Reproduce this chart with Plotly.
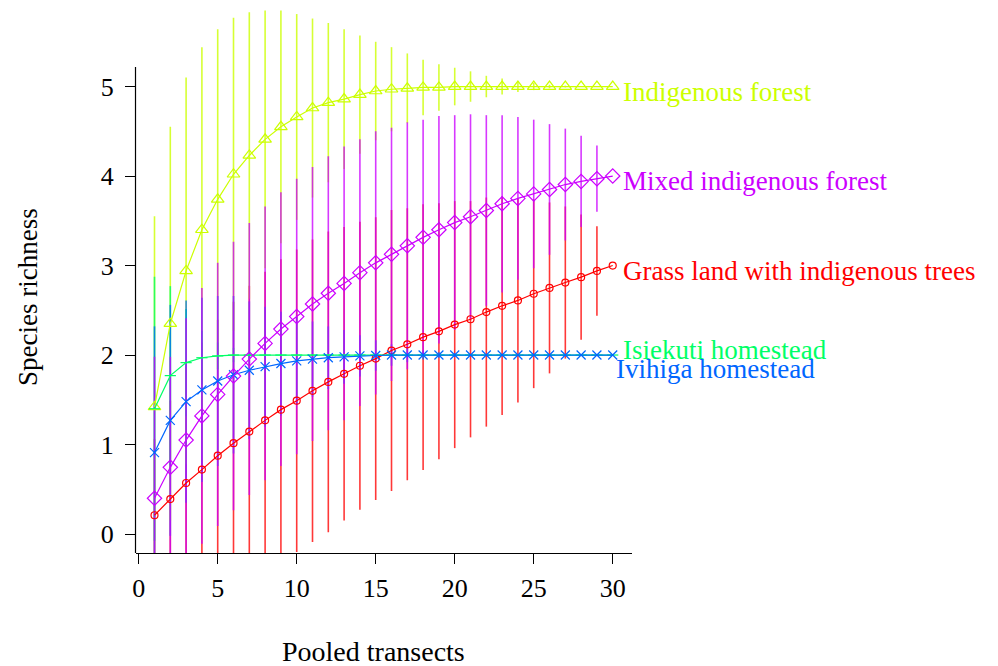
import plotly.graph_objects as go

# ---------------- data ----------------
transects = list(range(1, 31))

series_names = ["Grass land with indigenous trees", "Indigenous forest",
                "Isiekuti homestead", "Ivihiga homestead", "Mixed indigenous forest"]

grass = [0.21, 0.39, 0.57, 0.72, 0.875, 1.015, 1.145, 1.27, 1.39, 1.49,
         1.60, 1.70, 1.79, 1.88, 1.96, 2.05, 2.12, 2.20, 2.265, 2.34,
         2.40, 2.48, 2.55, 2.61, 2.685, 2.75, 2.81, 2.87, 2.94, 3.0]
grass_err = [0.85, 1.1, 1.3, 1.42, 1.52, 1.58, 1.63, 1.66, 1.68, 1.69,
             1.69, 1.68, 1.64, 1.61, 1.58, 1.57, 1.52, 1.485, 1.43, 1.38,
             1.32, 1.28, 1.22, 1.14, 1.055, 0.955, 0.85, 0.70, 0.50, 0.0]

indigenous = [1.42, 2.35, 2.94, 3.40, 3.74, 4.02, 4.23, 4.41, 4.55, 4.66,
              4.76, 4.82, 4.86, 4.91, 4.95, 4.97, 4.98, 4.99, 4.99, 5.0,
              5.0, 5.0, 5.0, 5.0, 5.0, 5.0, 5.0, 5.0, 5.0, 5.0]
indigenous_err = [2.13, 2.20, 2.16, 2.04, 1.90, 1.75, 1.60, 1.44, 1.30, 1.15,
                  1.00, 0.89, 0.78, 0.66, 0.55, 0.47, 0.39, 0.31, 0.26, 0.21,
                  0.17, 0.12, 0.09, 0.06, 0.04, 0.02, 0.01, 0.0, 0.0, 0.0]

isiekuti = [1.40, 1.77, 1.915, 1.97, 1.99, 2.0, 2.0, 2.0, 2.0, 2.0,
            2.0, 2.0, 2.0, 2.0, 2.0, 2.0, 2.0, 2.0, 2.0, 2.0,
            2.0, 2.0, 2.0, 2.0, 2.0, 2.0, 2.0, 2.0, 2.0, 2.0]
isiekuti_err = [1.475, 1.0, 0.6, 0.3, 0.15, 0.08, 0.04, 0.02, 0.0, 0.0,
                0.0, 0.0, 0.0, 0.0, 0.0, 0.0, 0.0, 0.0, 0.0, 0.0,
                0.0, 0.0, 0.0, 0.0, 0.0, 0.0, 0.0, 0.0, 0.0, 0.0]

ivihiga = [0.91, 1.27, 1.48, 1.61, 1.71, 1.78, 1.83, 1.87, 1.905, 1.935,
           1.955, 1.97, 1.98, 1.99, 1.995, 2.0, 2.0, 2.0, 2.0, 2.0,
           2.0, 2.0, 2.0, 2.0, 2.0, 2.0, 2.0, 2.0, 2.0, 2.0]
ivihiga_err = [1.41, 1.29, 1.13, 1.03, 0.95, 0.88, 0.77, 0.67, 0.58, 0.49,
               0.42, 0.35, 0.30, 0.23, 0.17, 0.12, 0.08, 0.05, 0.03, 0.02,
               0.01, 0.0, 0.0, 0.0, 0.0, 0.0, 0.0, 0.0, 0.0, 0.0]

mixed = [0.40, 0.745, 1.05, 1.32, 1.56, 1.765, 1.955, 2.13, 2.29, 2.43,
         2.57, 2.69, 2.80, 2.92, 3.03, 3.125, 3.22, 3.315, 3.40, 3.48,
         3.545, 3.615, 3.69, 3.75, 3.80, 3.85, 3.905, 3.94, 3.97, 4.0]
mixed_err = [1.58, 1.235, 1.36, 1.43, 1.47, 1.50, 1.52, 1.53, 1.53, 1.54,
             1.53, 1.53, 1.53, 1.49, 1.47, 1.415, 1.38, 1.315, 1.27, 1.20,
             1.145, 1.065, 0.99, 0.91, 0.83, 0.73, 0.625, 0.51, 0.37, 0.0]

x_ticks = [0, 5, 10, 15, 20, 25, 30]
y_ticks = [0, 1, 2, 3, 4, 5]

# ---------------- styling ----------------
colors = ["#FF0000", "#CCFF00", "#00FF66", "#0066FF", "#CC00FF"]
bar_colors = ["rgba(255,0,0,0.78)", "rgba(204,255,0,0.8)", "rgba(0,255,102,0.8)",
              "rgba(0,102,255,0.78)", "rgba(204,0,255,0.78)"]
symbols = ["circle-open", "triangle-up-open", "line-ew-open", "x-thin-open", "diamond-open"]
sizes = [7, 11, 8, 9, 11]
label_xshift = [8, 8, 8, 1, 8]
label_yshift = [-5, -5, 5, -14, -5]

means = [grass, indigenous, isiekuti, ivihiga, mixed]
errs = [grass_err, indigenous_err, isiekuti_err, ivihiga_err, mixed_err]

FONT = "Liberation Serif, Times New Roman, serif"

fig = go.Figure()

# error bars first (so lines/markers sit on top)
for m, e, bc in zip(means, errs, bar_colors):
    fig.add_trace(go.Scatter(
        x=transects, y=m, mode="markers",
        marker=dict(size=1, opacity=0),
        error_y=dict(type="data", array=e, symmetric=True, visible=True,
                     color=bc, thickness=1.6, width=0),
        showlegend=False, hoverinfo="skip"))

for m, c, s, sz in zip(means, colors, symbols, sizes):
    fig.add_trace(go.Scatter(
        x=transects, y=m, mode="lines+markers",
        line=dict(color=c, width=1.2),
        marker=dict(symbol=s, size=sz, color=c, line=dict(color=c, width=1.2)),
        showlegend=False))

annotations = []
for name, m, c, dx, dy in zip(series_names, means, colors, label_xshift, label_yshift):
    annotations.append(dict(
        x=transects[-1], y=m[-1], xref="x", yref="y", text=name,
        showarrow=False, xanchor="left", yanchor="middle",
        xshift=dx, yshift=dy, font=dict(family=FONT, size=27, color=c)))

# pixel layout
L, R, T, B = 136, 366, 0, 113
W, H = 998, 666
pw, ph = W - L - R, H - T - B

# axis titles placed in paper coordinates
annotations.append(dict(
    x=(373 - L) / pw, y=(H - B - 652) / ph, xref="paper", yref="paper",
    text="Pooled transects", showarrow=False, xanchor="center", yanchor="middle",
    font=dict(family=FONT, size=28, color="black")))
annotations.append(dict(
    x=(28 - L) / pw, y=(H - B - 297) / ph, xref="paper", yref="paper",
    text="Species richness", showarrow=False, xanchor="center", yanchor="middle",
    textangle=-90, font=dict(family=FONT, size=27, color="black")))

ymin, ymax = -0.212, 5.967
fig.update_layout(
    width=W, height=H,
    margin=dict(l=L, r=R, t=T, b=B, pad=0, autoexpand=False),
    paper_bgcolor="white", plot_bgcolor="white",
    annotations=annotations,
    shapes=[dict(type="line", xref="paper", yref="y",
                 x0=-0.001, x1=-0.001, y0=ymin, y1=5.218,
                 line=dict(color="black", width=1.2))],
    xaxis=dict(range=[-0.171, 31.22], tickvals=x_ticks, ticktext=[str(v) for v in x_ticks],
               automargin=False,
               showgrid=False, zeroline=False, showline=True, linecolor="black", linewidth=1.2,
               ticks="outside", ticklen=10, tickwidth=1, tickcolor="black",
               ticklabelstandoff=2,
               tickfont=dict(family=FONT, size=26, color="black")),
    yaxis=dict(range=[ymin, ymax], tickvals=y_ticks, ticktext=[str(v) for v in y_ticks],
               automargin=False,
               showgrid=False, zeroline=False, showline=False,
               ticks="outside", ticklen=10, tickwidth=1, tickcolor="black",
               ticklabelstandoff=6,
               tickfont=dict(family=FONT, size=26, color="black")),
)

fig.write_html("out.html",
               config={"displayModeBar": False},
               post_script="document.body.style.margin='0';document.body.style.overflow='hidden';")
